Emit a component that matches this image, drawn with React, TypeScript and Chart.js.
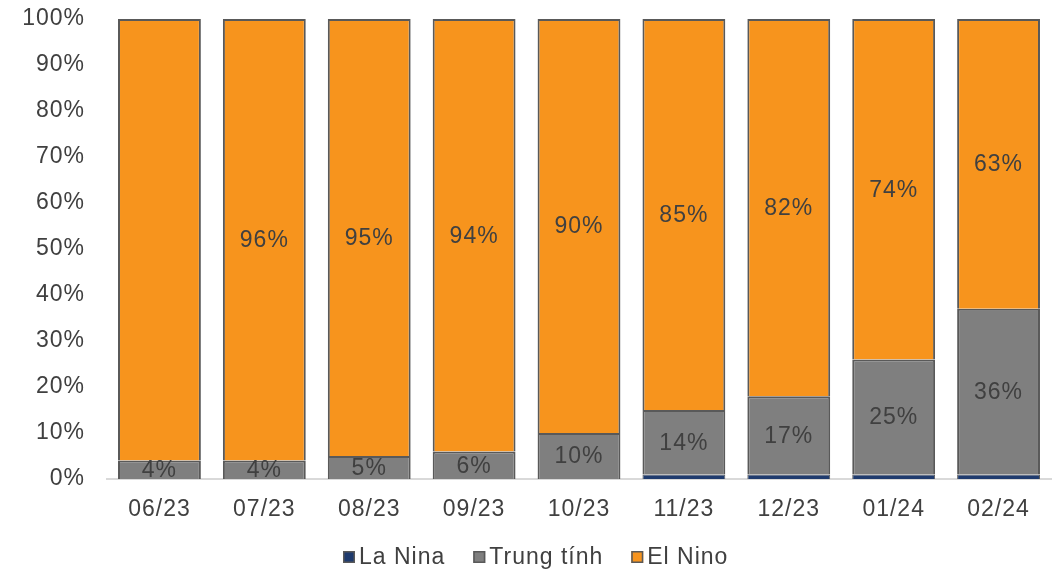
import React, { useEffect, useRef } from "react";
import { Chart, registerables } from "chart.js";

Chart.register(...registerables);

const categories = ["06/23", "07/23", "08/23", "09/23", "10/23", "11/23", "12/23", "01/24", "02/24"];
const laNina = [0, 0, 0, 0, 0, 1, 1, 1, 1];
const trungTinh = [4, 4, 5, 6, 10, 14, 17, 25, 36];
const elNino = [96, 96, 95, 94, 90, 85, 82, 74, 63];
const hiddenLabels: Record<string, number[]> = { "El Nino": [0] };
const yTicks = [0, 10, 20, 30, 40, 50, 60, 70, 80, 90, 100];

const FONT = "'Liberation Sans', Arial, sans-serif";
const TEXT = "#404040";
const FS = 23;
const SPACING = "1px";

const spacingPlugin = {
  id: "letterSpacing",
  beforeDraw(chart: any) {
    try { chart.ctx.letterSpacing = SPACING; } catch (e) {}
  },
};

const labelPlugin = {
  id: "segLabels",
  afterDatasetsDraw(chart: any) {
    const ctx = chart.ctx;
    ctx.save();
    ctx.font = `${FS}px ${FONT}`;
    ctx.fillStyle = TEXT;
    ctx.textAlign = "center";
    ctx.textBaseline = "middle";
    chart.data.datasets.forEach((ds: any, di: number) => {
      if (ds.label === "La Nina") return;
      const meta = chart.getDatasetMeta(di);
      const hidden = hiddenLabels[ds.label] || [];
      meta.data.forEach((bar: any, i: number) => {
        if (hidden.includes(i)) return;
        const v = ds.data[i];
        if (!v) return;
        const p = bar.getProps(["x", "y", "base"], true);
        ctx.fillText(`${v}%`, p.x, (p.y + p.base) / 2 + 1);
      });
    });
    ctx.restore();
  },
};

const legendPlugin = {
  id: "customLegend",
  afterDraw(chart: any) {
    const ctx = chart.ctx;
    const box = 12;
    const gapText = 4;
    const gapItem = 28;
    const y = 557;
    ctx.save();
    ctx.font = `${FS}px ${FONT}`;
    ctx.textBaseline = "middle";
    ctx.textAlign = "left";
    const items = chart.data.datasets.map((ds: any) => ({
      label: ds.label,
      color: ds.backgroundColor,
      w: box + gapText + ctx.measureText(ds.label).width,
    }));
    const total = items.reduce((a: number, it: any) => a + it.w, 0) + gapItem * (items.length - 1);
    let x = Math.round(536 - total / 2);
    items.forEach((it: any) => {
      ctx.fillStyle = it.color;
      ctx.fillRect(x, y - box / 2, box, box);
      ctx.strokeStyle = "#595959";
      ctx.lineWidth = 1.5;
      ctx.strokeRect(x + 0.75, y - box / 2 + 0.75, box - 1.5, box - 1.5);
      ctx.fillStyle = TEXT;
      ctx.fillText(it.label, x + box + gapText, y + 1);
      x += it.w + gapItem;
    });
    ctx.restore();
  },
};

export default function App() {
  const ref = useRef<HTMLCanvasElement>(null);
  useEffect(() => {
    if (!ref.current) return;
    const chart = new Chart(ref.current, {
      type: "bar",
      data: {
        labels: categories,
        datasets: [
          { label: "La Nina", data: laNina, backgroundColor: "#1F3B6E", borderColor: "#595959", borderWidth: 1, barPercentage: 0.79, categoryPercentage: 1 },
          { label: "Trung tính", data: trungTinh, backgroundColor: "#7F7F7F", borderColor: "#595959", borderWidth: 2, barPercentage: 0.79, categoryPercentage: 1 },
          { label: "El Nino", data: elNino, backgroundColor: "#F7941D", borderColor: "#595959", borderWidth: 2, barPercentage: 0.79, categoryPercentage: 1 },
        ],
      },
      options: {
        animation: false,
        responsive: false,
        maintainAspectRatio: false,
        layout: { padding: { top: 19, right: 2, bottom: 52, left: 0 } },
        plugins: {
          legend: { display: false },
          tooltip: { enabled: false },
        },
        scales: {
          x: {
            stacked: true,
            grid: { display: false, drawTicks: false },
            border: { display: true, color: "#D9D9D9", width: 2 },
            ticks: { font: { family: FONT, size: FS }, color: TEXT, padding: 17 },
            afterFit: (s: any) => { s.height = 40; },
          },
          y: {
            stacked: true,
            min: 0,
            max: 100,
            afterBuildTicks: (s: any) => { s.ticks = yTicks.map((v) => ({ value: v })); },
            grid: { display: false, drawTicks: false },
            border: { display: false },
            ticks: { font: { family: FONT, size: FS }, color: TEXT, padding: 22, callback: (v: any) => `${v}%` },
            afterFit: (s: any) => { s.width = 107; s.paddingTop = 12; s.paddingBottom = 12; },
          },
        },
      },
      plugins: [spacingPlugin, labelPlugin, legendPlugin],
    });
    return () => chart.destroy();
  }, []);
  return (
    <div style={{ position: "absolute", left: 0, top: 0, width: 1053, height: 571, background: "#fff" }}>
      <canvas ref={ref} width={1053} height={571} style={{ display: "block" }} />
    </div>
  );
}
